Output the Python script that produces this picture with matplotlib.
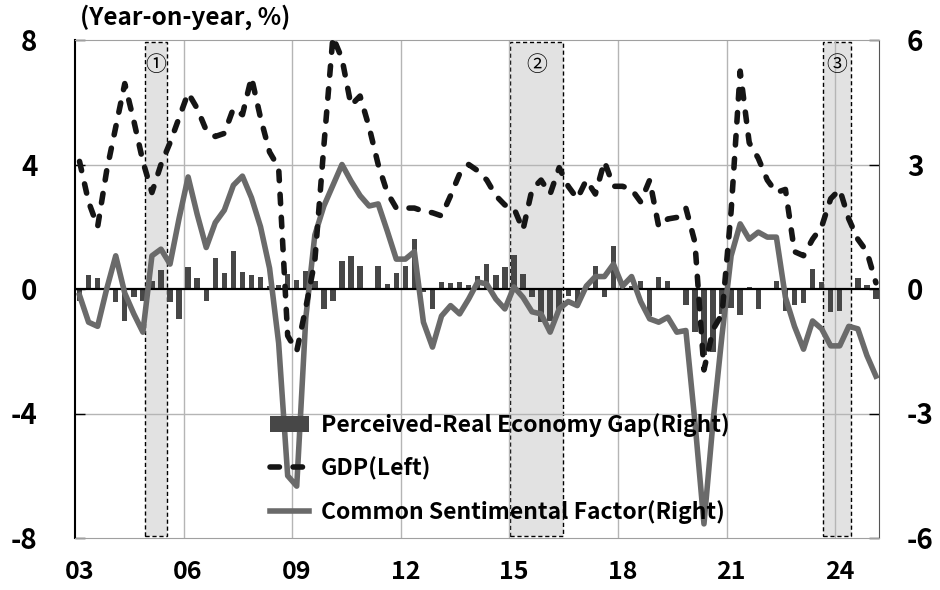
import numpy as np
import pandas as pd
import matplotlib
matplotlib.use("Agg")
import matplotlib.pyplot as plt
import matplotlib.transforms as mtransforms
from matplotlib.patches import Rectangle

plt.rcParams['font.family'] = ['Noto Sans CJK KR', 'DejaVu Sans']
plt.rcParams['font.weight'] = 'bold'

# quarterly data, 2003Q1 .. 2025Q1
quarters = pd.period_range("2003Q1", "2025Q1", freq="Q")

# GDP growth, year-on-year % (left axis)
gdp = [4.1, 2.8, 2.0, 3.8, 5.2, 6.6, 5.4, 4.1, 3.1, 4.0,
       4.7, 5.5, 6.3, 5.8, 5.1, 4.9, 5.0, 5.8, 5.6, 6.8,
       5.5, 4.4, 3.9, -1.5, -2.0, -0.6, 0.9, 4.6, 8.1, 7.4,
       5.9, 6.2, 5.2, 4.0, 3.1, 2.6, 2.6, 2.6, 2.5, 2.45,
       2.35, 3.0, 3.7, 4.0, 3.8, 3.5, 3.0, 2.7, 2.6, 1.9,
       3.2, 3.5, 3.05, 3.9, 3.3, 2.9, 3.5, 3.05, 4.1, 3.3,
       3.3, 3.2, 2.8, 3.5, 2.0, 2.25, 2.3, 2.6, 1.5, -2.6,
       -1.3, -0.8, 2.5, 7.0, 4.7, 4.2, 3.5, 3.1, 3.2, 1.2,
       1.07, 1.6, 2.0, 2.9, 3.2, 2.25, 1.6, 1.2, 0.2]

# common sentimental factor (right axis)
sentiment = [-0.15, -0.8, -0.9, 0.0, 0.8, -0.1, -0.6, -1.04, 0.8, 0.96,
             0.6, 1.7, 2.7, 1.8, 1.0, 1.6, 1.9, 2.5, 2.72, 2.2,
             1.5, 0.5, -1.3, -4.5, -4.75, -0.7, 1.3, 2.0, 2.5, 3.0,
             2.6, 2.25, 2.0, 2.05, 1.4, 0.72, 0.72, 0.9, -0.8, -1.4,
             -0.65, -0.4, -0.6, -0.24, 0.17, 0.12, -0.24, -0.48, 0.05, -0.2,
             -0.55, -0.6, -1.04, -0.48, -0.3, -0.4, 0.07, 0.3, 0.3, 0.6,
             0.07, 0.3, -0.3, -0.72, -0.8, -0.68, -1.04, -1.0, -3.2, -5.66,
             -3.2, -1.1, 0.8, 1.57, 1.2, 1.37, 1.25, 1.25, -0.2, -0.9,
             -1.45, -0.77, -0.96, -1.37, -1.37, -0.9, -0.96, -1.6, -2.1]

# perceived-real economy gap (right axis, bars)
gap = [-0.28, 0.34, 0.27, 0.0, -0.32, -0.77, -0.2, -0.28, 0.2, 0.46,
       -0.32, -0.72, 0.54, 0.26, -0.28, 0.74, 0.38, 0.92, 0.4, 0.34,
       0.3, 0.08, 0.1, 0.36, 0.22, 0.44, 0.2, -0.48, -0.28, 0.68,
       0.79, 0.56, 0.0, 0.56, 0.12, 0.38, 0.56, 1.2, -0.08, -0.48,
       0.16, 0.14, 0.16, 0.1, 0.32, 0.6, 0.33, 0.53, 0.82, 0.36,
       -0.2, -0.8, -0.77, -0.48, -0.16, -0.32, 0.05, 0.56, -0.2, 1.03,
       0.2, 0.08, 0.2, -0.65, 0.3, 0.2, -0.03, -0.38, -1.04, -1.6,
       -1.53, -0.6, -0.45, -0.62, 0.05, -0.48, 0.03, 0.2, -0.54, -0.38,
       -0.34, 0.48, 0.17, -0.55, -0.52, 0.0, 0.26, 0.1, -0.25]

# highlighted periods (start, end) in years
episodes = [(2004.93, 2005.54), (2015.02, 2016.47), (2023.66, 2024.45)]
episode_marks = ["①", "②", "③"]

year_ticks = [2003, 2006, 2009, 2012, 2015, 2018, 2021, 2024]
year_labels = ["03", "06", "09", "12", "15", "18", "21", "24"]
left_ticks = [-8, -4, 0, 4, 8]
right_ticks = [-6, -3, 0, 3, 6]

x = quarters.year + (quarters.quarter - 0.5) / 4

fig = plt.figure(figsize=(9.4, 5.9), dpi=100)
ax = fig.add_axes([75 / 940, 52 / 590, 804 / 940, 498 / 590])
ax2 = ax.twinx()
ax.set_zorder(ax2.get_zorder() + 1)
ax.patch.set_visible(False)

ax.set_xlim(2003, 2025.21)
ax.set_ylim(-8, 8)
ax2.set_ylim(-6, 6)

# grid
for yr in year_ticks[1:]:
    ax2.axvline(yr, color='#b5b5b5', lw=1, zorder=1)
for v in [-3, 3]:
    ax2.axhline(v, color='#b5b5b5', lw=1, zorder=1)

# shaded periods
trans = mtransforms.blended_transform_factory(ax2.transData, ax2.transAxes)
for (s, e), mark in zip(episodes, episode_marks):
    ax2.add_patch(Rectangle((s, 0.004), e - s, 0.992, transform=trans,
                            facecolor='#e2e2e2', edgecolor='black',
                            linestyle=(0, (3, 2)), lw=1, zorder=0.5))
    ax2.text((s + e) / 2, 0.95, mark, transform=trans, ha='center',
             va='center', fontsize=15, fontweight='normal', zorder=4)

bars = ax2.bar(x, gap, width=0.15, color='#474747', zorder=2,
               label="Perceived-Real Economy Gap(Right)")
ax2.axhline(0, color='black', lw=1.6, zorder=2.5)
sent_line, = ax2.plot(x, sentiment, color='#6a6a6a', lw=4, zorder=3,
                      label="Common Sentimental Factor(Right)")
gdp_line, = ax.plot(x, gdp, color='#151515', lw=4, dashes=(1.7, 2.45),
                    dash_capstyle='round', zorder=3, label="GDP(Left)")

# axes styling
ax.set_xticks([yr + 0.125 for yr in year_ticks])
ax.set_xticklabels(year_labels)
ax.tick_params(axis='x', length=0, labelsize=18, pad=16)
ax.set_yticks(left_ticks)
ax.set_yticklabels([str(t) for t in left_ticks])
ax.tick_params(axis='y', direction='in', length=7, width=1, labelsize=20, pad=27)
ax2.set_yticks(right_ticks)
ax2.set_yticklabels([str(t) for t in right_ticks])
ax2.tick_params(axis='y', direction='in', length=7, width=1, labelsize=20, pad=20)

ax.spines['left'].set_color('black')
ax.spines['left'].set_linewidth(1.5)
ax.spines['right'].set_visible(False)
ax.spines['top'].set_color('#a0a0a0')
ax.spines['bottom'].set_color('#a0a0a0')
for side in ['left', 'top', 'bottom']:
    ax2.spines[side].set_visible(False)
ax2.spines['right'].set_color('#555555')

leg = ax.legend([bars, gdp_line, sent_line],
                ["Perceived-Real Economy Gap(Right)", "GDP(Left)",
                 "Common Sentimental Factor(Right)"],
                loc='upper left', bbox_to_anchor=(0.242, 0.25),
                frameon=False, fontsize=16.5, handlelength=1.7,
                handletextpad=0.55, labelspacing=0.85,
                borderpad=0, borderaxespad=0)

fig.text(80 / 940, 1 - 17 / 590, "(Year-on-year, %)", fontsize=17.5,
         fontweight='bold', ha='left', va='center')

fig.savefig("out.png", dpi=100)
